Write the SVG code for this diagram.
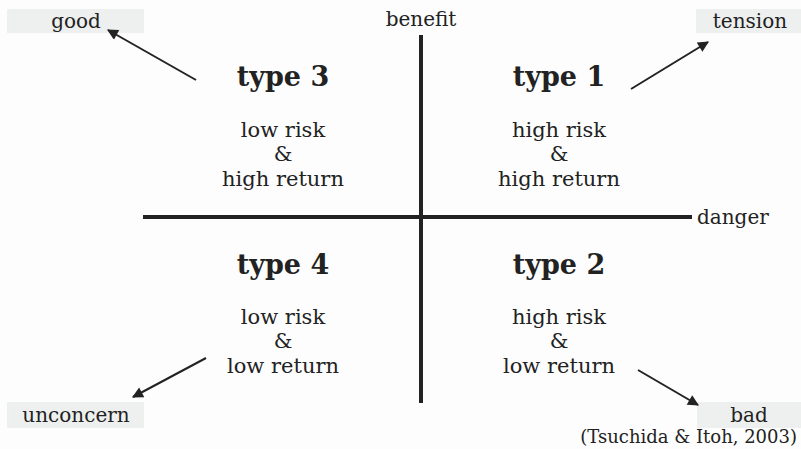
<svg xmlns="http://www.w3.org/2000/svg" width="801" height="449" viewBox="0 0 801 449">
<style>
.bg{fill:#fdfdfd}
.lbl{fill:#eef0ef}
.t{font-family:"DejaVu Serif","Liberation Serif",serif;fill:#222;text-anchor:middle}
.h{font-size:27px;font-weight:bold}
.b{font-size:21px}
.s{font-size:20px}
.axis{stroke:#222;stroke-width:4;fill:none}
.arr{stroke:#222;stroke-width:2;fill:none;marker-end:url(#ah)}
</style>
<defs>
<marker id="ah" viewBox="0 0 10 10" refX="9" refY="5" markerWidth="13" markerHeight="11" markerUnits="userSpaceOnUse" orient="auto">
<path d="M0,0 L10,5 L0,10 z" fill="#222"/>
</marker>
</defs>
<rect class="bg" x="0" y="0" width="801" height="449"/>
<g id="good"><rect class="lbl" x="7" y="9" width="137" height="24"/><text class="t s" x="76" y="28">good</text></g>
<g id="tension"><rect class="lbl" x="696" y="9" width="105" height="24"/><text class="t s" x="750" y="28">tension</text></g>
<g id="unconcern"><rect class="lbl" x="7" y="402" width="137" height="26"/><text class="t s" x="76" y="422">unconcern</text></g>
<g id="bad"><rect class="lbl" x="697" y="402" width="104" height="26"/><text class="t s" x="749" y="422">bad</text></g>
<g id="connectors">
<line class="axis" x1="421" y1="35" x2="421" y2="403"/>
<line class="axis" x1="143" y1="217" x2="692" y2="217"/>
<line class="arr" x1="196" y1="80" x2="108" y2="30"/>
<line class="arr" x1="631" y1="89" x2="708" y2="42"/>
<line class="arr" x1="206" y1="358" x2="133" y2="397"/>
<line class="arr" x1="638" y1="370" x2="698" y2="405"/>
</g>
<g id="axis-benefit"><text class="t s" x="421" y="26">benefit</text></g>
<g id="axis-danger"><text class="t s" x="697" y="224" style="text-anchor:start">danger</text></g>
<g id="type3">
<text class="t h" x="283" y="86">type 3</text>
<text class="t b" x="283" y="137">low risk</text>
<text class="t b" x="283" y="161">&amp;</text>
<text class="t b" x="283" y="186">high return</text>
</g>
<g id="type1">
<text class="t h" x="559" y="86">type 1</text>
<text class="t b" x="559" y="137">high risk</text>
<text class="t b" x="559" y="161">&amp;</text>
<text class="t b" x="559" y="186">high return</text>
</g>
<g id="type4">
<text class="t h" x="283" y="274">type 4</text>
<text class="t b" x="283" y="324">low risk</text>
<text class="t b" x="283" y="348">&amp;</text>
<text class="t b" x="283" y="373">low return</text>
</g>
<g id="type2">
<text class="t h" x="559" y="274">type 2</text>
<text class="t b" x="559" y="324">high risk</text>
<text class="t b" x="559" y="348">&amp;</text>
<text class="t b" x="559" y="373">low return</text>
</g>
<g id="citation"><text class="t" x="797" y="443" style="text-anchor:end;font-size:18px">(Tsuchida &amp; Itoh, 2003)</text></g>
</svg>
